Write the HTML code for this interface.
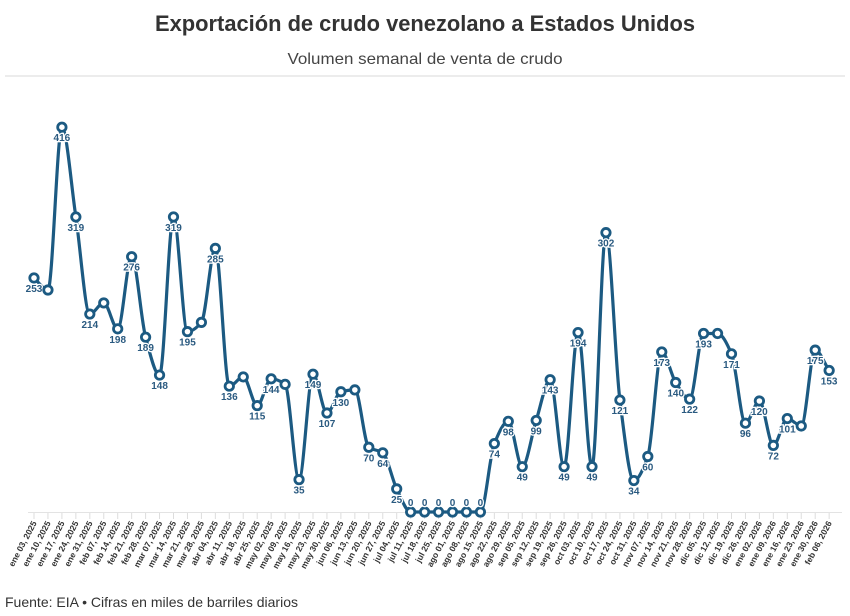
<!DOCTYPE html>
<html><head><meta charset="utf-8"><style>
body{margin:0;background:#fff;}
svg{display:block;font-family:"Liberation Sans",sans-serif;}
</style></head><body>
<svg id="s" width="850" height="616" xmlns="http://www.w3.org/2000/svg">
<text x="425" y="31" text-anchor="middle" font-size="22" font-weight="bold" fill="#333" textLength="540" lengthAdjust="spacingAndGlyphs">Exportación de crudo venezolano a Estados Unidos</text>
<text x="425" y="64" text-anchor="middle" font-size="16" fill="#444" textLength="275" lengthAdjust="spacingAndGlyphs">Volumen semanal de venta de crudo</text>
<rect x="5" y="75" width="840" height="2" fill="#ececec"/>
<line x1="28" y1="512.5" x2="842" y2="512.5" stroke="#e3e3e3" stroke-width="1"/>
<g id="ticks"></g>
<path id="ln" fill="none" stroke="#1c5a82" stroke-width="3.2" stroke-linejoin="round"/>
<g id="pts"></g>
<text x="5" y="607" font-size="14" fill="#333" textLength="293" lengthAdjust="spacingAndGlyphs">Fuente: EIA • Cifras en miles de barriles diarios</text>
</svg>
<script>
var v=[253,240,416,319,214,226,198,276,189,148,319,195,205,285,136,146,115,144,138,35,149,107,130,132,70,64,25,0,0,0,0,0,0,74,98,49,99,143,49,194,49,302,121,34,60,173,140,122,193,193,171,96,120,72,101,93,175,153];
var nolab={1:1,5:1,12:1,15:1,18:1,23:1,49:1,55:1};
var months=[["ene",[3,10,17,24,31]],["feb",[7,14,21,28]],["mar",[7,14,21,28]],["abr",[4,11,18,25]],["may",[2,9,16,23,30]],["jun",[6,13,20,27]],["jul",[4,11,18,25]],["ago",[1,8,15,22,29]],["sep",[5,12,19,26]],["oct",[3,10,17,24,31]],["nov",[7,14,21,28]],["dic",[5,12,19,26]]];
var labs=[];months.forEach(function(m){m[1].forEach(function(d){labs.push(m[0]+" "+(d<10?"0":"")+d+", 2025");});});
[2,9,16,23,30].forEach(function(d){labs.push("ene "+(d<10?"0":"")+d+", 2026");});labs.push("feb 06, 2026");
var X=function(i){return 34+i*13.95;},Y=function(val){return 512-val*0.925;};
var NS="http://www.w3.org/2000/svg";
function el(t,a,p,txt){var e=document.createElementNS(NS,t);for(var k in a)e.setAttribute(k,a[k]);if(txt!==undefined)e.textContent=txt;p.appendChild(e);return e;}
var tk=document.getElementById("ticks");
for(var i=0;i<58;i++){var x=X(i);el("line",{x1:x,y1:513,x2:x,y2:519,stroke:"#ddd"},tk);
el("text",{transform:"translate("+(x+3)+",523) rotate(-62)","text-anchor":"end","font-size":"8.5","font-weight":"bold",fill:"#333"},tk,labs[i]);}
var n=v.length,xs=[],ys=[];for(i=0;i<n;i++){xs.push(X(i));ys.push(Y(v[i]));}
var d=[],m=[];for(i=0;i<n-1;i++)d.push((ys[i+1]-ys[i])/(xs[i+1]-xs[i]));
m[0]=d[0];m[n-1]=d[n-2];for(i=1;i<n-1;i++){if(d[i-1]*d[i]<=0)m[i]=0;else m[i]=2/(1/d[i-1]+1/d[i]);}
var p="M"+xs[0]+","+ys[0];for(i=0;i<n-1;i++){var h=(xs[i+1]-xs[i])/3;p+="C"+(xs[i]+h)+","+(ys[i]+m[i]*h)+" "+(xs[i+1]-h)+","+(ys[i+1]-m[i+1]*h)+" "+xs[i+1]+","+ys[i+1];}
document.getElementById("ln").setAttribute("d",p);
var g=document.getElementById("pts");
for(i=0;i<n;i++){el("circle",{cx:xs[i],cy:ys[i],r:4.2,fill:"#fff",stroke:"#1c5a82","stroke-width":2.8},g);
if(!nolab[i]){var ly=v[i]==0?ys[i]-6:ys[i]+14;el("text",{x:xs[i],y:ly,"text-anchor":"middle","font-size":"10","font-weight":"bold",fill:"#2a5a80",stroke:"#fff","stroke-width":"2.5","paint-order":"stroke"},g,v[i]);}}
</script>
</body></html>
